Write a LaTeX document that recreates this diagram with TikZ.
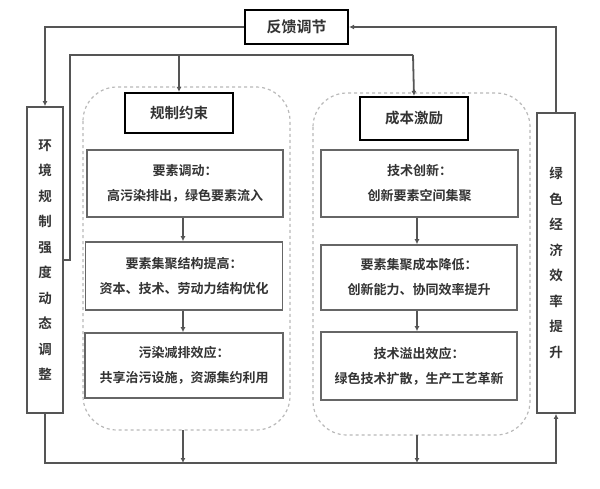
\documentclass[tikz,border=0pt]{standalone}
\usepackage{fontspec}
\setmainfont{Noto Sans CJK SC}[BoldFont={Noto Sans CJK SC Bold}]
\usetikzlibrary{arrows.meta}
\definecolor{lin}{HTML}{555555}
\definecolor{txt}{HTML}{333333}
\tikzset{
  conn/.style={draw=lin, line width=1.8pt},
  arr/.style={conn, -{Latex[length=5pt,width=5pt]}},
  grp/.style={draw=gray!55, dashed, line width=1.2pt, rounded corners=34pt},
  title/.style={draw=black, line width=2.2pt, fill=white, font=\bfseries\fontsize{14.5}{16}\selectfont, text=txt, inner sep=0pt},
  inbox/.style={draw=gray!80!black, line width=1.6pt, fill=white, align=center, font=\bfseries\fontsize{13}{25}\selectfont, text=txt, inner sep=0pt},
  vbox/.style={draw=lin, line width=1.8pt, fill=white, align=center, font=\bfseries\fontsize{13.5}{25.5}\selectfont, text=txt, inner sep=0pt},
}
\begin{document}
\begin{tikzpicture}[x=1pt,y=-1pt]
\useasboundingbox (0,0) rectangle (600,488);
% groups
\draw[grp] (83,87) rectangle (290,430);
\draw[grp] (313,93) rectangle (530,435);
\coordinate (lgb) at (183,430);
\coordinate (rgb) at (417,435);
% top feedback box
\node[title, minimum width=103pt, minimum height=34pt, font=\bfseries\fontsize{15}{17}\selectfont] (fb) at (296.5,27) {反馈调节};
% vertical boxes
\node[vbox, minimum width=36pt, minimum height=306pt] (lv) at (45,260) {环\\境\\规\\制\\强\\度\\动\\态\\调\\整};
\node[vbox, minimum width=38pt, minimum height=300pt] (rv) at (556,263) {绿\\色\\经\\济\\效\\率\\提\\升};
% titles
\node[title, minimum width=108pt, minimum height=40pt] (lt) at (179,113) {规制约束};
\node[title, minimum width=108pt, minimum height=43pt] (rt) at (414,118.5) {成本激励};
% left inner boxes
\node[inbox, minimum width=196pt, minimum height=67pt] (l1) at (185,183.5) {要素调动：\\高污染排出，绿色要素流入};
\node[inbox, minimum width=197pt, minimum height=68pt] (l2) at (184,276) {要素集聚结构提高：\\资本、技术、劳动力结构优化};
\node[inbox, minimum width=198pt, minimum height=65pt] (l3) at (184,365.5) {污染减排效应：\\共享治污设施，资源集约利用};
% right inner boxes
\node[inbox, minimum width=197pt, minimum height=67pt] (r1) at (419.5,183.5) {技术创新：\\创新要素空间集聚};
\node[inbox, minimum width=196pt, minimum height=65pt] (r2) at (419,277.5) {要素集聚成本降低：\\创新能力、协同效率提升};
\node[inbox, minimum width=196pt, minimum height=68pt] (r3) at (419,366) {技术溢出效应：\\绿色技术扩散，生产工艺革新};
% feedback connectors
\draw[arr] (fb.west) -| (lv.north);
\draw[arr] (rv.north) |- (fb.east);
% inner line from left box to groups
\coordinate (k1) at (70,260);
\coordinate (k2) at (70,55);
\coordinate (k3) at (413,55);
\draw[conn] (lv.east |- k1) -- (k1) -- (k2) -- (k3);
\draw[arr] (k2 -| lt.north) -- (lt.north);
\draw[arr] (k3) -- (rt.north);
% inner arrows
\draw[arr] (l1.south -| 183,0) -- (l2.north -| 183,0);
\draw[arr] (l2.south -| 183,0) -- (l3.north -| 183,0);
\draw[arr] (r1.south -| 417,0) -- (r2.north -| 417,0);
\draw[arr] (r2.south -| 417,0) -- (r3.north -| 417,0);
% bottom line
\coordinate (b1) at (45,463);
\coordinate (b2) at (556,463);
\draw[arr] (lv.south) -- (b1) -- (b2) -- (rv.south);
\draw[arr] (lgb) -- (lgb |- b1);
\draw[arr] (rgb) -- (rgb |- b1);
\end{tikzpicture}
\end{document}
